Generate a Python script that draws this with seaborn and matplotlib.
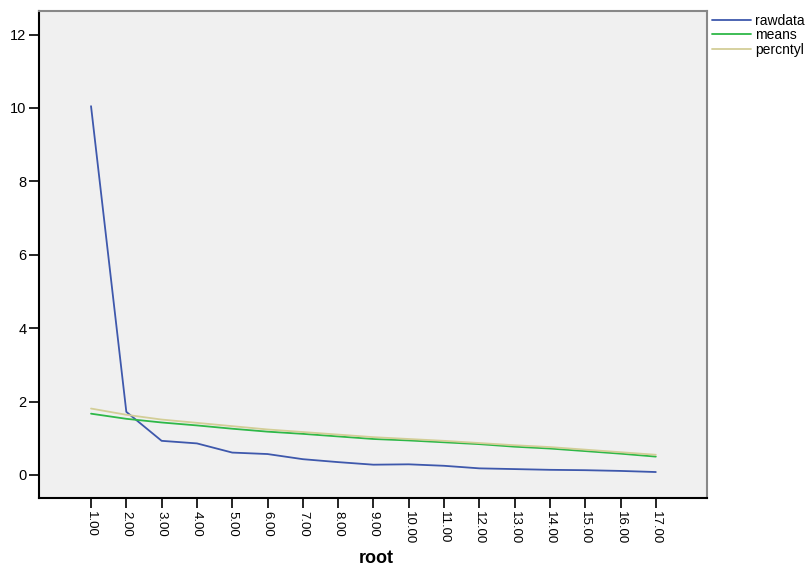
import pandas as pd
import numpy as np
import matplotlib.pyplot as plt
import seaborn as sns

root = [1, 2, 3, 4, 5, 6, 7, 8, 9, 10, 11, 12, 13, 14, 15, 16, 17]
rawdata = [10.05, 1.72, 0.93, 0.86, 0.61, 0.57, 0.43, 0.35, 0.28, 0.29, 0.25, 0.18, 0.16, 0.14, 0.13, 0.11, 0.08]
means = [1.67, 1.53, 1.43, 1.35, 1.26, 1.18, 1.12, 1.05, 0.98, 0.94, 0.89, 0.84, 0.77, 0.72, 0.65, 0.58, 0.50]
percntyl = [1.81, 1.64, 1.51, 1.42, 1.33, 1.24, 1.17, 1.10, 1.03, 0.98, 0.93, 0.87, 0.81, 0.76, 0.69, 0.62, 0.55]
series = ["rawdata", "means", "percntyl"]
colors = ["#3E58AC", "#2EB848", "#D3CE97"]

df = pd.DataFrame({"root": root, "rawdata": rawdata, "means": means, "percntyl": percntyl})
long_df = df.melt(id_vars="root", var_name="series", value_name="value")

sns.set_style("ticks")
plt.rcParams['font.family'] = ['Liberation Sans', 'DejaVu Sans']
plt.rcParams['text.color'] = 'black'
plt.rcParams['xtick.color'] = 'black'
plt.rcParams['ytick.color'] = 'black'
plt.rcParams['axes.labelcolor'] = 'black'

fig = plt.figure(figsize=(8.08, 5.66), dpi=100)
ax = fig.add_axes([0.048, 0.120, 0.827, 0.861])
ax.set_facecolor("#F0F0F0")

sns.lineplot(data=long_df, x="root", y="value", hue="series", hue_order=series,
             palette=colors, linewidth=1.3, ax=ax)

ax.set_xlim(-0.48, 18.45)
ax.set_ylim(-0.63, 12.65)
ax.set_xticks(root)
ax.set_xticklabels([f"{r:.2f}" for r in root], rotation=-90, fontsize=9.5)
ax.set_yticks([0, 2, 4, 6, 8, 10, 12])
ax.tick_params(axis="y", labelsize=10.5, length=7, width=1.2, pad=2)
ax.tick_params(axis="x", length=7, width=1.2, pad=2)
ax.set_xlabel("root", fontsize=13, fontweight="bold", va="center")
ax.xaxis.set_label_coords(0.505, -0.123)
ax.set_ylabel("")

for side in ["left", "bottom"]:
    ax.spines[side].set_color("black")
    ax.spines[side].set_linewidth(1.5)
for side in ["top", "right"]:
    ax.spines[side].set_visible(True)
    ax.spines[side].set_color("#888888")
    ax.spines[side].set_linewidth(1.5)

ax.legend(loc="upper left", bbox_to_anchor=(1.003, 1.0), frameon=False,
          fontsize=10, handlelength=2.8, handletextpad=0.3, labelspacing=0.05,
          borderaxespad=0.0, borderpad=0.2)

plt.savefig("out.png", dpi=100)
